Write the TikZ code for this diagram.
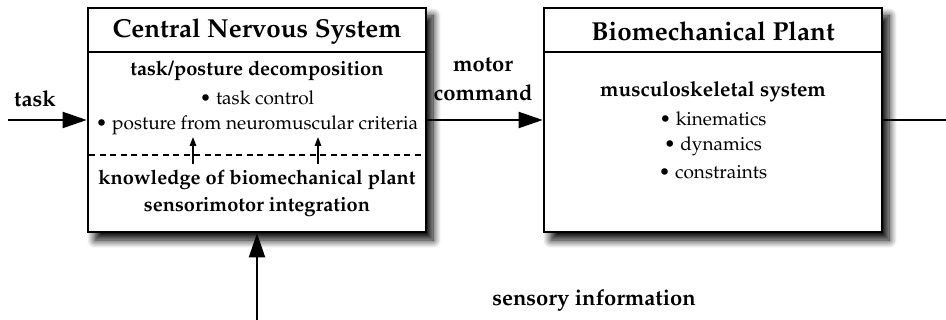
\documentclass[tikz,border=0pt]{standalone}
\usepackage[T1]{fontenc}
\usepackage{textcomp}
\usepackage{mathpazo}
\usetikzlibrary{arrows.meta,shadows.blur}
\tikzset{
  blockbox/.style={draw=black,line width=2.6pt,fill=white,rectangle,minimum width=338pt,minimum height=224pt,inner sep=0pt,
    blur shadow={shadow xshift=7pt,shadow yshift=-8pt,shadow blur radius=8pt,shadow opacity=100,shadow blur steps=10}},
  divider/.style={line width=2pt},
  bigarrow/.style={line width=2pt,-{Triangle[length=24pt,width=16pt]}},
  smallarrow/.style={line width=1.5pt,-{Triangle[length=9pt,width=6.5pt]}},
  plainline/.style={line width=2pt},
  titletext/.style={font=\fontsize{26}{30}\selectfont\bfseries,inner sep=0pt},
  headtext/.style={font=\fontsize{20}{24}\selectfont\bfseries,inner sep=0pt},
  bodytext/.style={font=\fontsize{19}{23}\selectfont,inner sep=0pt},
  labeltext/.style={font=\fontsize{22}{26}\selectfont\bfseries,inner sep=0pt}
}
\begin{document}
\begin{tikzpicture}[x=1pt,y=-1pt]
\useasboundingbox (0,0) rectangle (946,320);
% boxes
\node[blockbox] (cns) at (257,120) {};
\node[blockbox] (bp) at (713,120) {};
% dividers
\draw[divider] (88,52) -- (426,52);
\draw[divider] (544,52) -- (882,52);
\draw[line width=1.6pt,dash pattern=on 6pt off 4.5pt] (89,155) -- (425,155);
% titles
\node[titletext] (cnstitle) at (257,31) {Central Nervous System};
\node[titletext] (bptitle) at (713,31) {Biomechanical Plant};
% CNS contents
\node[headtext] (tpd) at (257,71) {task/posture decomposition};
\node[bodytext] (tc) at (257,98) {\textbullet{} task control};
\node[bodytext] (pnc) at (257,125) {\textbullet{} posture from neuromuscular criteria};
\node[headtext] (kbp) at (257,180) {knowledge of biomechanical plant};
\node[headtext] (si) at (257,207) {sensorimotor integration};
% BP contents
\node[headtext,font=\fontsize{20.8}{24}\selectfont\bfseries] (ms) at (713,92) {musculoskeletal system};
\node[bodytext] (kin) at (713,119) {\textbullet{} kinematics};
\node[bodytext] (dyn) at (713,146) {\textbullet{} dynamics};
\node[bodytext] (con) at (713,172) {\textbullet{} constraints};
% small arrows
\coordinate (s1a) at (193,164);
\coordinate (s1b) at (193,137);
\coordinate (s2a) at (318,164);
\coordinate (s2b) at (318,137);
\draw[smallarrow] (s1a) -- (s1b);
\draw[smallarrow] (s2a) -- (s2b);
% connectors
\coordinate (taskstart) at (8,120);
\coordinate (outend) at (946,120);
\coordinate (sensstart) at (257,320);
\draw[bigarrow] (taskstart) -- (cns.west);
\draw[bigarrow] (cns.east) -- (bp.west);
\draw[plainline] (bp.east) -- (outend);
\draw[bigarrow] (sensstart) -- (cns.south);
% labels
\node[labeltext] (tasklbl) at (35,99) {task};
\node[labeltext] (motorlbl) at (483,65) {motor};
\node[labeltext] (cmdlbl) at (483,93) {command};
\node[labeltext] (senslbl) at (594,300) {sensory information};
\end{tikzpicture}
\end{document}
